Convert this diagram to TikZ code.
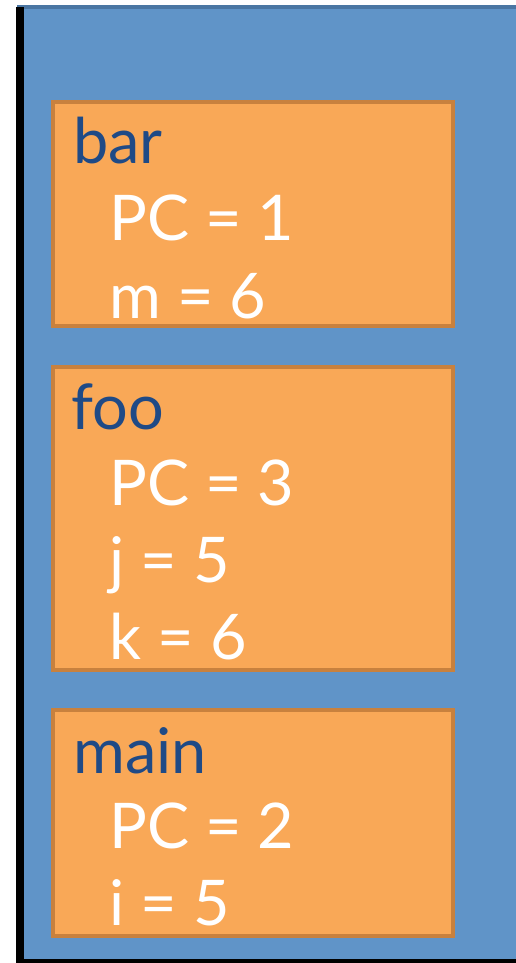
\documentclass[tikz,border=0pt]{standalone}
\usepackage{fontspec}
\setmainfont{Lato}
\definecolor{stackblue}{HTML}{6094C8}
\definecolor{stackedge}{HTML}{4A76A3}
\definecolor{frameorange}{HTML}{F9A857}
\definecolor{frameedge}{HTML}{C8813E}
\definecolor{titleblue}{HTML}{1F4A86}
\tikzset{
  framebox/.style={fill=frameorange, draw=frameedge, line width=4pt},
  frametitle/.style={anchor=base west, inner sep=0pt, text=titleblue, font=\fontsize{63}{63}\selectfont},
  frameline/.style={anchor=base west, inner sep=0pt, text=white, font=\fontsize{63}{63}\selectfont},
}
\begin{document}
\begin{tikzpicture}[x=1pt,y=-1pt]
\useasboundingbox (0,0) rectangle (516,963);
% stack background
\fill[stackblue] (17,5) rectangle (516,959);
\fill[stackedge] (17,5) rectangle (516,9);
\fill[black] (16,7) rectangle (24,963);
\fill[black] (16,959) rectangle (516,963);
% frames
\draw[framebox] (53,102) rectangle (453,326);
\draw[framebox] (53,367) rectangle (453,670);
\draw[framebox] (53,710) rectangle (453,936);
% bar frame
\node[frametitle] (bar) at (73,163) {bar};
\node[frameline] (barpc) at (109,240) {PC = 1};
\node[frameline] (barm) at (109,318) {m = 6};
% foo frame
\node[frametitle] (foo) at (71,429) {foo};
\node[frameline] (foopc) at (109,505) {PC = 3};
\node[frameline] (fooj) at (109,582) {j = 5};
\node[frameline] (fook) at (109,659) {k = 6};
% main frame
\node[frametitle] (main) at (73,773) {main};
\node[frameline] (mainpc) at (109,848) {PC = 2};
\node[frameline] (maini) at (109,925) {i = 5};
\end{tikzpicture}
\end{document}
